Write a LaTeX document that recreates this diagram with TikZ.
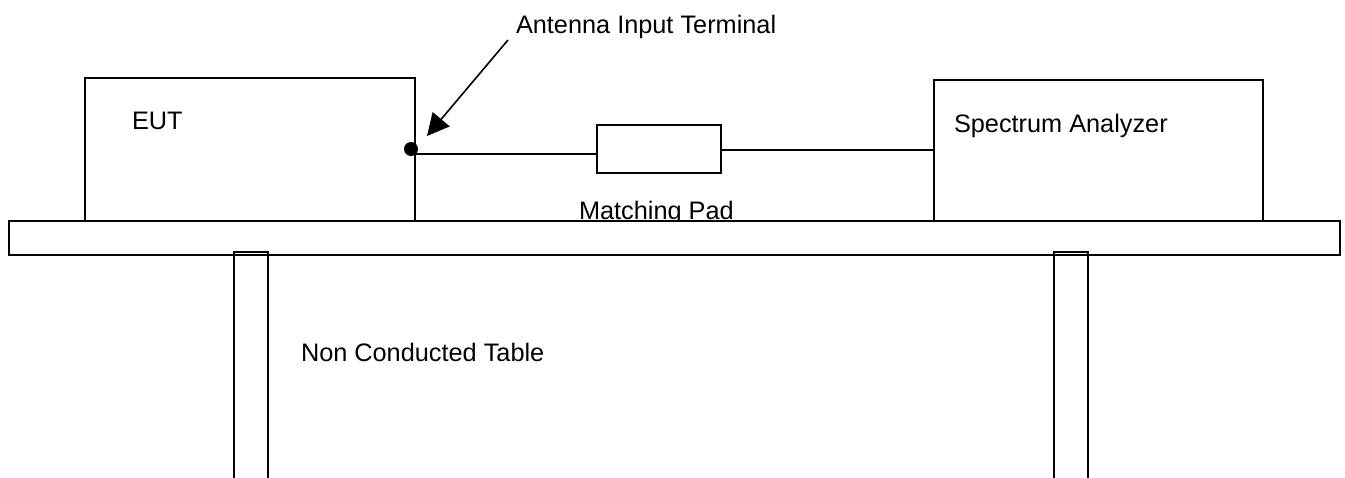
\documentclass[tikz,border=0pt]{standalone}
\usepackage{fontspec}
\setmainfont{Liberation Sans}
\usetikzlibrary{arrows.meta}
\begin{document}
\begin{tikzpicture}[x=1pt,y=-1pt,
  line width=2pt,
  box/.style={draw=black, line width=2pt, inner sep=0pt, fill=white},
  lbl/.style={inner sep=0pt, anchor=base west, font=\fontsize{25.3}{30}\selectfont},
  dotn/.style={circle, fill=black, inner sep=0pt, minimum size=14pt}]
\useasboundingbox (0,0) rectangle (1345,477);
% EUT
\node[box, anchor=north west, minimum width=330pt, minimum height=143pt] (eut) at (84,77) {};
\node[lbl] (eutl) at (131,129) {EUT};
% Spectrum analyzer
\node[box, anchor=north west, minimum width=329pt, minimum height=141pt] (sa) at (933,79) {};
\node[lbl] (sal) at (953,132) {Spectrum Analyzer};
% Matching pad
\node[box, anchor=north west, minimum width=124pt, minimum height=48pt] (pad) at (596,124) {};
\node[lbl] (padl) at (578,219) {Matching Pad};
% connections
\coordinate (c1) at (414,154);
\coordinate (c2) at (720,150);
\draw (c1) -- (pad.west |- c1);
\draw (c2) -- (sa.west |- c2);
\node[dotn] (ait) at (411,149) {};
% antenna label and arrow
\node[lbl] (aitl) at (515,33) {Antenna Input Terminal};
\coordinate (as) at (508,40);
\coordinate (ae) at (427,136);
\draw[line width=1.6pt, -{Triangle[length=22pt,width=22pt]}] (as) -- (ae);
% table
\node[box, anchor=north west, minimum width=1331pt, minimum height=34pt] (table) at (8,220) {};
\draw (234,480) -- (234,252) -- (268,252) -- (268,480);
\draw (1054,480) -- (1054,252) -- (1088,252) -- (1088,480);
\node[lbl] (tbl) at (300,361) {Non Conducted Table};
\end{tikzpicture}
\end{document}
